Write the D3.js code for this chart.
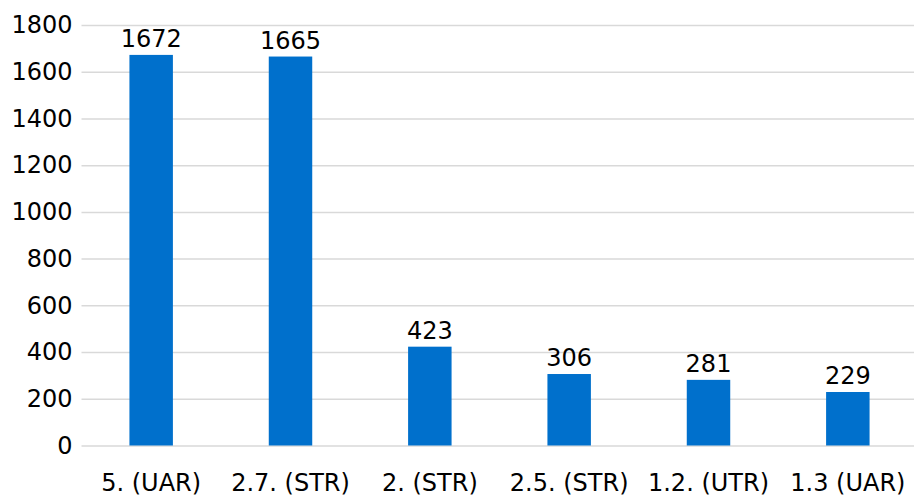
<!DOCTYPE html>
<html>
<head>
<meta charset="utf-8">
<script src="https://cdn.jsdelivr.net/npm/d3@7"></script>
<style>
  html, body { margin: 0; padding: 0; background: #fff; overflow: hidden; }
  svg { display: block; font-family: "DejaVu Sans", sans-serif; }
</style>
</head>
<body>
<svg id="chart" width="914" height="495"></svg>
<script>
// Categories and their counts
const categories = ["5. (UAR)", "2.7. (STR)", "2. (STR)", "2.5. (STR)", "1.2. (UTR)", "1.3 (UAR)"];
const values = [1672, 1665, 423, 306, 281, 229];
const yTicks = [0, 200, 400, 600, 800, 1000, 1200, 1400, 1600, 1800];

const svg = d3.select("#chart");
const plotLeft = 81.5, plotRight = 917.5;
const y0 = 445.5, yTop = 25;
const fontSize = 24;

const x = d3.scaleBand().domain(categories).range([plotLeft, plotRight]).padding(0);
const y = d3.scaleLinear().domain([0, 1800]).range([y0, yTop]);
const barW = x.bandwidth() * 0.312;

// Gridlines and value axis
const yAxis = d3.axisLeft(y).tickValues(yTicks).tickFormat(d3.format("d"))
  .tickSize(-(plotRight - plotLeft)).tickPadding(9);
const gy = svg.append("g").attr("transform", `translate(${plotLeft},0)`).call(yAxis);
gy.select(".domain").remove();
gy.selectAll(".tick line").attr("stroke", "#d9d9d9").attr("stroke-width", 1.5);
gy.selectAll(".tick text")
  .attr("fill", "#000").attr("font-size", fontSize)
  .attr("font-family", "DejaVu Sans, sans-serif");

// Bars
svg.append("g").selectAll("rect").data(values).join("rect")
  .attr("x", (d, i) => x(categories[i]) + x.bandwidth() / 2 - barW / 2)
  .attr("width", barW)
  .attr("y", d => y(d))
  .attr("height", d => y(0) - y(d))
  .attr("fill", "#0070cc");

// Value labels
svg.append("g").selectAll("text").data(values).join("text")
  .attr("x", (d, i) => x(categories[i]) + x.bandwidth() / 2)
  .attr("y", d => y(d) - 8)
  .attr("text-anchor", "middle")
  .attr("font-size", fontSize)
  .attr("fill", "#000")
  .text(d => d);

// Category axis labels
const xAxis = d3.axisBottom(x).tickSize(0).tickPadding(0);
const gx = svg.append("g").attr("transform", `translate(0,${y0})`).call(xAxis);
gx.select(".domain").remove();
gx.selectAll(".tick text")
  .attr("dy", null)
  .attr("y", 45)
  .attr("fill", "#000").attr("font-size", fontSize)
  .attr("font-family", "DejaVu Sans, sans-serif");
</script>
</body>
</html>
